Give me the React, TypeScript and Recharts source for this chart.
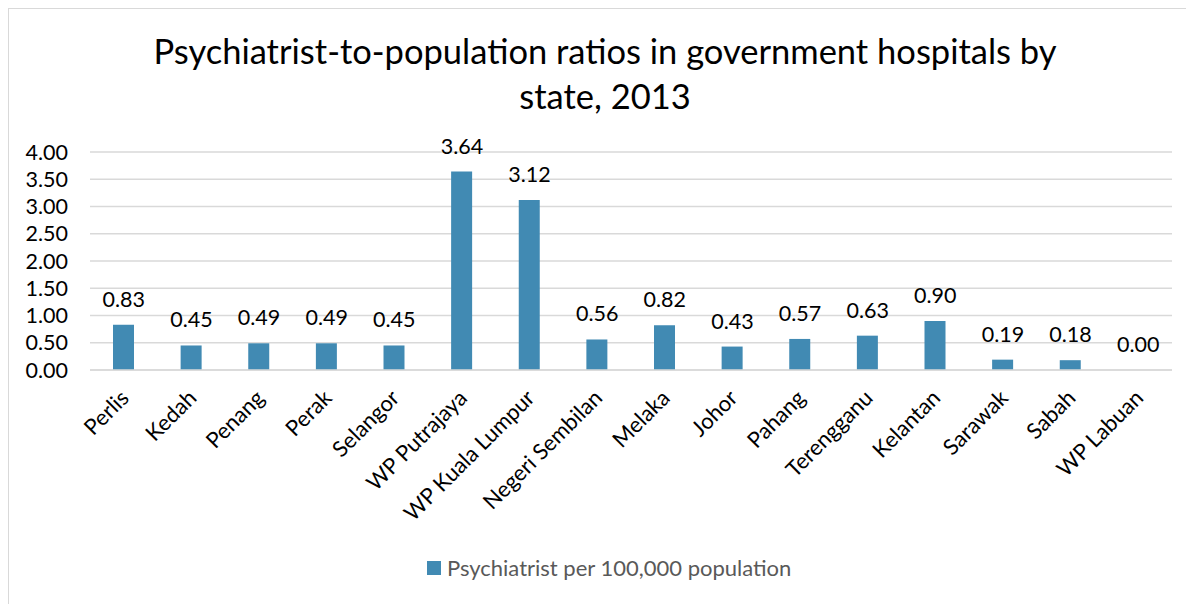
import { Bar, CartesianGrid, ComposedChart, LabelList, Line, XAxis, YAxis } from "recharts";

const states = [
  "Perlis",
  "Kedah",
  "Penang",
  "Perak",
  "Selangor",
  "WP Putrajaya",
  "WP Kuala Lumpur",
  "Negeri Sembilan",
  "Melaka",
  "Johor",
  "Pahang",
  "Terengganu",
  "Kelantan",
  "Sarawak",
  "Sabah",
  "WP Labuan",
];
const ratios = [0.83, 0.45, 0.49, 0.49, 0.45, 3.64, 3.12, 0.56, 0.82, 0.43, 0.57, 0.63, 0.9, 0.19, 0.18, 0.0];
const yTicks = [0, 0.5, 1, 1.5, 2, 2.5, 3, 3.5, 4];

const seriesName = "Psychiatrist per 100,000 population";
const titleLines = ["Psychiatrist-to-population ratios in government hospitals by", "state, 2013"];

const data = states.map((state, i) => ({ state, value: ratios[i] }));

const FONT = "Lato, 'Open Sans', sans-serif";
const BAR = "#418AB3";
const GRID = "#d9d9d9";

function StateTick({ x, y, payload }: any) {
  const ax = x + 1;
  const ay = y + 24;
  return (
    <text
      x={ax}
      y={ay}
      dy="0.35em"
      transform={`rotate(-45 ${ax} ${ay})`}
      textAnchor="end"
      fontFamily={FONT}
      fontSize={22}
      fill="#000"
    >
      {payload.value}
    </text>
  );
}

export default function App() {
  return (
    <div
      style={{
        position: "relative",
        width: 1182,
        height: 600,
        border: `1px solid ${GRID}`,
        background: "#fff",
        fontFamily: FONT,
      }}
    >
      <svg width={1182} height={130} style={{ position: "absolute", left: 0, top: 0 }}>
        {titleLines.map((line, i) => (
          <text
            key={i}
            x={596}
            y={55 + i * 45}
            textAnchor="middle"
            fontFamily={FONT}
            fontSize={34.5}
            fill="#000"
          >
            {line}
          </text>
        ))}
      </svg>
      <div style={{ position: "absolute", left: 0, top: 0 }}>
        <ComposedChart width={1182} height={595} data={data} margin={{ top: 143, right: 19, left: 0, bottom: 0 }}>
          <CartesianGrid vertical={false} stroke={GRID} strokeWidth={1.5} />
          <XAxis
            dataKey="state"
            interval={0}
            height={234}
            tickLine={false}
            tickSize={0}
            tickMargin={0}
            axisLine={{ stroke: GRID, strokeWidth: 1.5 }}
            tick={<StateTick />}
          />
          <YAxis
            width={81}
            domain={[0, 4]}
            ticks={yTicks}
            interval={0}
            axisLine={false}
            tickLine={false}
            tickSize={0}
            tickMargin={22}
            tickFormatter={(v: number) => v.toFixed(2)}
            tick={{ fontFamily: FONT, fontSize: 21.5, fill: "#000" }}
          />
          <Bar dataKey="value" name={seriesName} fill={BAR} barSize={21} isAnimationActive={false} />
          {/* invisible line carries the value labels so the zero bar gets one too */}
          <Line
            dataKey="value"
            stroke="none"
            dot={false}
            activeDot={false}
            legendType="none"
            isAnimationActive={false}
          >
            <LabelList
              dataKey="value"
              position="top"
              offset={18}
              formatter={(v: any) => Number(v).toFixed(2)}
              style={{ fontFamily: FONT, fontSize: 21.5, fill: "#000" }}
            />
          </Line>
        </ComposedChart>
      </div>
      <div
        style={{
          position: "absolute",
          left: 418,
          top: 545,
          display: "flex",
          alignItems: "center",
          gap: 6,
          fontSize: 22,
          color: "#595959",
          whiteSpace: "nowrap",
        }}
      >
        <span style={{ display: "inline-block", width: 14, height: 14, background: BAR }} />
        <span>{seriesName}</span>
      </div>
    </div>
  );
}
